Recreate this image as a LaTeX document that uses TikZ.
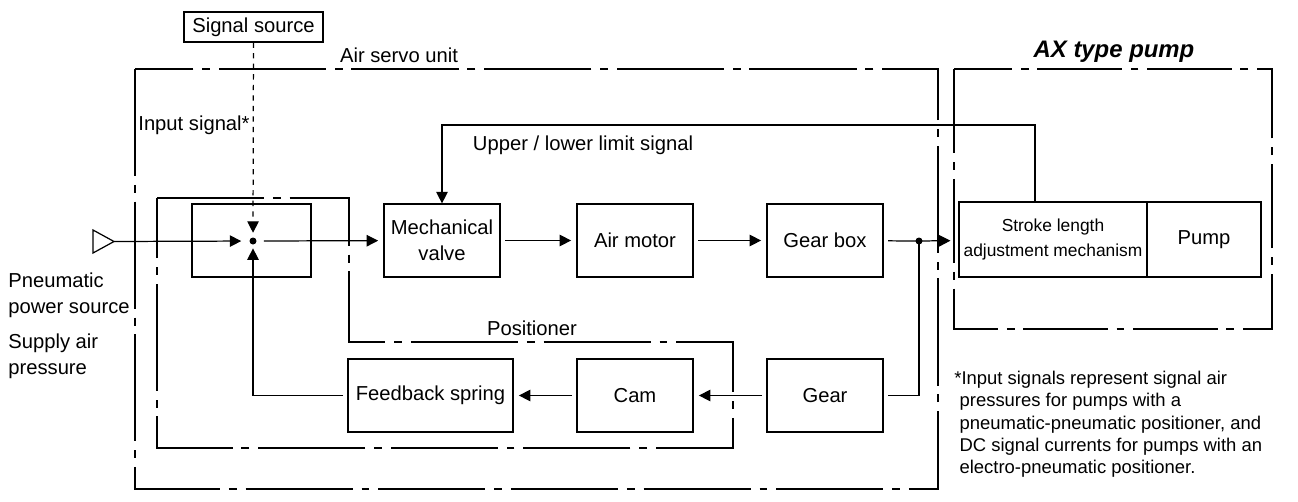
\documentclass[tikz,border=0pt]{standalone}
\usepackage{fontspec}
\setmainfont{Liberation Sans}
\usetikzlibrary{arrows.meta,calc}
\tikzset{
	box/.style={draw, line width=0.7pt, minimum width=2.32cm, minimum height=1.46cm, align=center, inner sep=1pt},
	ln/.style={line width=0.7pt},
	arr/.style={line width=0.7pt, -{Triangle[length=6.5pt,width=6.5pt]}},
	dashdot/.style={line width=0.7pt, dash pattern=on 61pt off 5pt on 4.5pt off 5pt},
	dashdotax/.style={line width=0.7pt, dash pattern=on 48pt off 5pt on 4.5pt off 5pt},
}

\begin{document}
\begin{tikzpicture}[x=0.02cm, y=-0.02cm, font=\fontsize{11.5}{14.7}\selectfont]
	%%%%% START %%%%%
	\useasboundingbox (0,0) rectangle (1298,501);
	
	% frames
	\draw[dashdot] (135,69) rectangle (938,489);
	\draw[dashdotax] (954,69) rectangle (1272,329);
	\draw[dashdot] (157,198) -- (349,198) -- (349,342) -- (733,342) -- (733,448) -- (157,448) -- cycle;
	
	\node at (399,55) {Air servo unit};
	\node at (1114,52) {\fontsize{13.6}{16}\selectfont\bfseries\itshape AX type pump};
	\node at (532,328) {Positioner};
	\node at (583,145) {Upper / lower limit signal};
	\node at (194,125) {Input signal*};
	
	% blocks
	\node[box, minimum width=2.78cm, minimum height=0.6cm] (src) at (253.5,27) {Signal source};
	\node[box, minimum width=2.38cm] (relay) at (251.5,240.5) {};
	\node[circle, fill, inner sep=0pt, minimum size=0.14cm] (sum) at (253,241) {};
	\node[box] (valve) at (442,240.5) {Mechanical\\valve};
	\node[box] (motor) at (635,240.5) {Air motor};
	\node[box] (gbox) at (825,240.5) {Gear box};
	\node[box, minimum width=3.3cm] (spring) at (430.5,395.5) {Feedback spring};
	\node[box] (cam) at (635,395.5) {Cam};
	\node[box] (gear) at (825,395.5) {Gear};
	\node[box, minimum width=3.76cm, minimum height=1.5cm, font=\fontsize{9.9}{14.7}\selectfont] (stroke) at (1053,239.5) {Stroke length\\adjustment mechanism};
	\node[box, minimum width=2.28cm, minimum height=1.5cm] (pump) at (1204,239.5) {Pump};
	
	% supply
	\draw[ln] (93,230) -- (114,241.5) -- (93,253) -- cycle;
	\coordinate (supply) at (114,241.5);
	\coordinate (jn) at (919,241);
	\coordinate (lim) at (1035,125);
	\fill (jn) circle (3.5);
	
	% connectors
	\draw[arr, shorten >=4.5pt] (supply) -- (sum);
	\draw[arr, dashed, shorten >=2.5pt] (src) -- (sum);
	\draw[arr, shorten <=4pt, shorten >=3pt] (sum) -- (valve);
	\draw[arr, shorten <=2.5pt, shorten >=3pt] (valve) -- (motor);
	\draw[arr, shorten <=2.5pt, shorten >=3pt] (motor) -- (gbox);
	\draw[ln, shorten <=2.5pt] (gbox) -- (jn);
	\draw[arr, shorten >=4.5pt] (jn) -- (stroke);
	\draw[ln, shorten <=2.5pt] (gear) -| (jn);
	\draw[arr, shorten <=2.5pt, shorten >=3pt] (gear) -- (cam);
	\draw[arr, shorten <=2.5pt, shorten >=3pt] (cam) -- (spring);
	\draw[arr, shorten <=2.5pt, shorten >=2pt] (spring) -| (sum);
	\draw[arr] (stroke.north -| lim) -- (lim) -| (valve.north);
	
	% notes
	\node[anchor=west, align=left, inner sep=0pt] at (8,295) {Pneumatic\\power source};
	\node[anchor=west, align=left, inner sep=0pt] at (8,356) {Supply air\\pressure};
	\node[anchor=north west, inner sep=0pt, align=left, font=\fontsize{10.5}{12.6}\selectfont] (note) at (954,371) {*Input signals represent signal air\\
		\hspace*{3pt}pressures for pumps with a\\
		\hspace*{3pt}pneumatic-pneumatic positioner, and\\
		\hspace*{3pt}DC signal currents for pumps with an\\
		\hspace*{3pt}electro-pneumatic positioner.};
	%%%%% END %%%%%
\end{tikzpicture}
\end{document}
